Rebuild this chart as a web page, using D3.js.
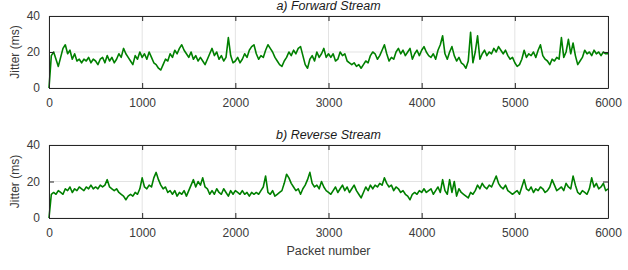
<!DOCTYPE html>
<html>
<head>
<meta charset="utf-8">
<script src="https://cdn.jsdelivr.net/npm/d3@7"></script>
<style>
  body { margin: 0; background: #fff; }
  svg text { font-family: "Liberation Sans", Arial, sans-serif; }
</style>
</head>
<body>
<svg id="chart" width="628" height="270"></svg>
<script>
// values, one every 25 packets (0 .. 6000)
var packetStep = 25;
var xTicks = [0, 1000, 2000, 3000, 4000, 5000, 6000];
var yTicks = [0, 20, 40];
var panelTitles = ["a) Forward Stream", "b) Reverse Stream"];

var forwardJitter = [
  0, 18, 20, 16, 12, 17, 22, 24, 19, 21, 16, 19, 15, 16, 14, 16, 15, 17, 14, 16,
  15, 13, 16, 17, 14, 18, 15, 17, 14, 16, 19, 17, 22, 19, 17, 15, 13, 18, 16, 20,
  17, 19, 16, 20, 17, 14, 13, 11, 10, 13, 16, 15, 19, 17, 21, 19, 22, 24, 21, 19,
  17, 20, 16, 18, 15, 17, 15, 13, 16, 19, 22, 18, 20, 16, 18, 15, 17, 28, 18, 14,
  15, 17, 14, 16, 19, 17, 21, 23, 24, 19, 16, 18, 17, 21, 24, 22, 20, 17, 15, 13,
  12, 15, 17, 20, 18, 21, 19, 22, 23, 18, 13, 11, 16, 18, 15, 20, 17, 19, 22, 17,
  19, 17, 19, 15, 16, 20, 18, 19, 15, 14, 13, 14, 12, 13, 11, 13, 15, 14, 18, 20,
  19, 16, 18, 21, 24, 19, 15, 17, 16, 20, 22, 19, 21, 18, 20, 22, 16, 19, 21, 18,
  21, 23, 20, 18, 17, 19, 16, 21, 24, 29, 19, 16, 20, 23, 18, 15, 17, 14, 13, 11,
  15, 31, 14, 20, 29, 16, 19, 21, 18, 20, 19, 22, 20, 23, 21, 19, 21, 18, 16, 17,
  14, 12, 13, 16, 21, 17, 19, 18, 20, 17, 21, 24, 18, 16, 15, 13, 16, 15, 17, 16,
  28, 17, 20, 27, 19, 25, 18, 13, 15, 17, 21, 19, 20, 18, 21, 19, 20, 18, 20, 19,
  19
];

var reverseJitter = [
  0, 13, 14, 13, 15, 14, 13, 16, 15, 17, 14, 16, 15, 17, 16, 15, 17, 16, 18, 16,
  17, 16, 18, 17, 18, 21, 17, 16, 15, 16, 14, 13, 12, 10, 12, 13, 12, 14, 13, 16,
  22, 17, 16, 18, 17, 22, 25, 21, 18, 16, 17, 14, 15, 13, 15, 12, 14, 13, 15, 12,
  15, 18, 21, 17, 20, 18, 22, 17, 16, 13, 15, 13, 16, 14, 13, 16, 14, 12, 15, 13,
  15, 14, 13, 15, 13, 14, 12, 14, 13, 14, 13, 15, 17, 23, 14, 13, 15, 12, 13, 14,
  15, 19, 24, 22, 19, 17, 15, 16, 13, 16, 18, 21, 25, 19, 17, 18, 16, 20, 17, 15,
  14, 13, 15, 17, 14, 16, 18, 15, 17, 14, 16, 18, 15, 13, 11, 14, 17, 15, 18, 16,
  18, 17, 19, 18, 22, 19, 17, 18, 15, 17, 16, 14, 15, 13, 12, 10, 13, 14, 13, 15,
  14, 16, 14, 15, 16, 13, 15, 17, 14, 21, 15, 13, 21, 14, 20, 12, 16, 14, 13, 12,
  11, 14, 13, 15, 18, 16, 19, 17, 16, 18, 17, 20, 23, 19, 17, 16, 18, 15, 14, 13,
  14, 15, 13, 17, 21, 16, 15, 17, 14, 16, 15, 17, 16, 14, 15, 17, 21, 18, 15, 16,
  17, 15, 19, 17, 16, 23, 18, 14, 13, 15, 14, 13, 16, 22, 17, 19, 16, 17, 19, 15,
  16
];

var svg = d3.select("#chart");
var left = 49, right = 608;
var panels = [
  { top: 16, bottom: 88, data: forwardJitter, title: panelTitles[0] },
  { top: 145, bottom: 218, data: reverseJitter, title: panelTitles[1] }
];

var x = d3.scaleLinear().domain([0, 6000]).range([left, right]);
var axisColor = "#262626";
var tickLen = 5;

panels.forEach(function(p, i) {
  var y = d3.scaleLinear().domain([0, 40]).range([p.bottom, p.top]);
  var g = svg.append("g");

  // grid
  g.selectAll(".vgrid").data(xTicks).enter().append("line")
    .attr("x1", function(d) { return x(d); }).attr("x2", function(d) { return x(d); })
    .attr("y1", p.top).attr("y2", p.bottom)
    .attr("stroke", "#e3e3e3").attr("stroke-width", 1);
  g.selectAll(".hgrid").data(yTicks).enter().append("line")
    .attr("x1", left).attr("x2", right)
    .attr("y1", function(d) { return y(d); }).attr("y2", function(d) { return y(d); })
    .attr("stroke", "#e3e3e3").attr("stroke-width", 1);

  // series
  var line = d3.line()
    .x(function(d, j) { return x(j * packetStep); })
    .y(function(d) { return y(d); });
  g.append("path")
    .datum(p.data)
    .attr("d", line)
    .attr("fill", "none")
    .attr("stroke", "#008000")
    .attr("stroke-width", 1.6)
    .attr("stroke-linejoin", "round");

  // axes (MATLAB box style, ticks inward)
  var xb = d3.axisBottom(x).tickValues(xTicks).tickSizeInner(-tickLen).tickSizeOuter(0)
    .tickPadding(10).tickFormat(d3.format("d"));
  var xt = d3.axisTop(x).tickValues(xTicks).tickSizeInner(-tickLen).tickSizeOuter(0).tickFormat("");
  var yl = d3.axisLeft(y).tickValues(yTicks).tickSizeInner(-tickLen).tickSizeOuter(0).tickPadding(9);
  var yr = d3.axisRight(y).tickValues(yTicks).tickSizeInner(-tickLen).tickSizeOuter(0).tickFormat("");

  g.append("g").attr("transform", "translate(0," + p.bottom + ")").call(xb);
  g.append("g").attr("transform", "translate(0," + p.top + ")").call(xt);
  g.append("g").attr("transform", "translate(" + left + ",0)").call(yl);
  g.append("g").attr("transform", "translate(" + right + ",0)").call(yr);

  g.selectAll(".domain").attr("stroke", axisColor).attr("stroke-width", 1);
  g.selectAll(".tick line").attr("stroke", axisColor);
  g.selectAll(".tick text").attr("fill", "#3a3a3a").style("font-size", "12px");

  // title
  g.append("text")
    .attr("x", (left + right) / 2)
    .attr("y", p.top - 6)
    .attr("text-anchor", "middle")
    .style("font-size", "12.5px")
    .style("font-style", "italic")
    .attr("fill", "#1a1a1a")
    .text(p.title);

  // y label
  g.append("text")
    .attr("transform", "translate(19," + ((p.top + p.bottom) / 2) + ") rotate(-90)")
    .attr("text-anchor", "middle")
    .style("font-size", "12px")
    .attr("fill", "#3a3a3a")
    .text("Jitter (ms)");
});

svg.append("text")
  .attr("x", (left + right) / 2)
  .attr("y", 255)
  .attr("text-anchor", "middle")
  .style("font-size", "12.5px")
  .attr("fill", "#3a3a3a")
  .text("Packet number");
</script>
</body>
</html>
